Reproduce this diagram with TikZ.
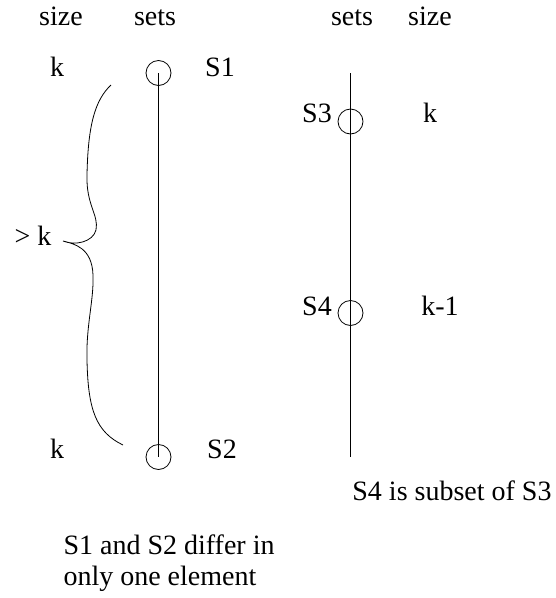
\documentclass[tikz,border=0pt]{standalone}
\usepackage{fontspec}
\setmainfont{Liberation Serif}
\usetikzlibrary{positioning}

\begin{document}
\begin{tikzpicture}[
    x=1pt, y=-1pt,
    every node/.style={align=center, font=\fontsize{28}{31}\selectfont,
        text height=0.68em, text depth=0pt},
    setdot/.style={circle, draw, thick, minimum size=25pt, inner sep=0pt},
    setline/.style={thick},
    brace/.style={thick}
]
\useasboundingbox (0,0) rectangle (556,598);

% Column headings
\node (hsizeL) at (61,22) {size};
\node (hsetsL) at (155,22) {sets};
\node (hsetsR) at (352,22) {sets};
\node (hsizeR) at (430,22) {size};

% Left chain: S1 and S2
\node[setdot] (s1) at (158.5,73) {};
\node[setdot] (s2) at (158.5,457) {};
\draw[setline] (s1.center) -- (s2.center);
\node (s1lab) at (220,73) {S1};
\node (s2lab) at (222,455) {S2};
\node (k1) at (57,73) {k};
\node (k2) at (57,455) {k};

% Brace with size label
\node (gtk) at (33,242) {> k};
\draw[brace] (111,85) .. controls (95,100) and (88,125) .. (87,175)
    .. controls (86,205) and (99,215) .. (96,230)
    .. controls (93,242) and (75,246) .. (63,241)
    .. controls (75,244) and (92,248) .. (93,275)
    .. controls (94,300) and (86,325) .. (87,360)
    .. controls (88,410) and (96,432) .. (123,445);

% Right chain: S3 and S4
\coordinate (rtop) at (350,73);
\coordinate (rbot) at (350,457);
\draw[setline] (rtop) -- (rbot);
\node[setdot] (s3) at (350.5,121.5) {};
\node[setdot] (s4) at (350.5,313) {};
\node (s3lab) at (317,119) {S3};
\node (s4lab) at (317,312) {S4};
\node (k3) at (430,119) {k};
\node (k4) at (440,312) {k-1};

% Captions
\node (capR) at (452,497) {S4 is subset of S3};
\node[anchor=west, align=left, text height=, text depth=] (capL) at (60,563) {S1 and S2 differ in\\only one element};

\end{tikzpicture}
\end{document}
